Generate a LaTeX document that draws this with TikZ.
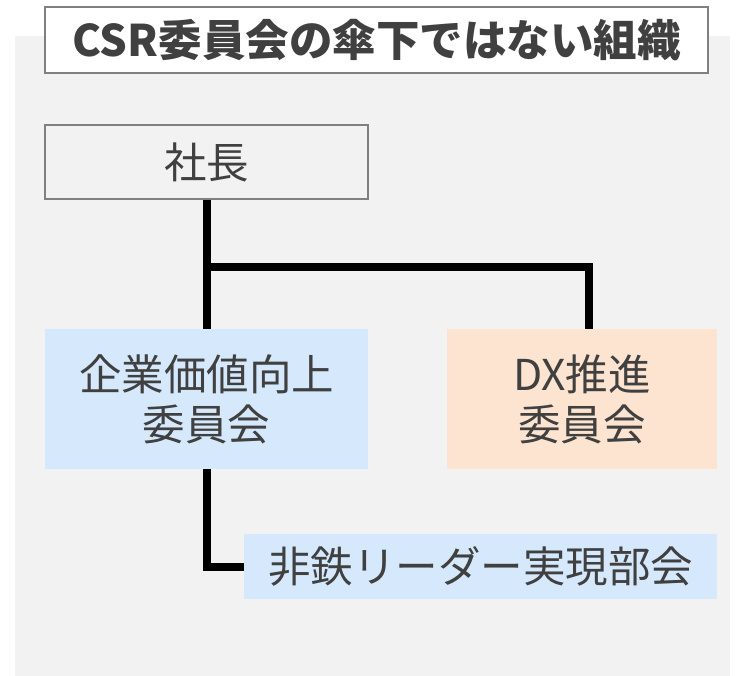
\documentclass[tikz,border=0pt]{standalone}
\usepackage{fontspec}
\setmainfont{Noto Sans CJK JP}
\definecolor{bggray}{HTML}{F2F2F2}
\definecolor{boxblue}{HTML}{D6E9FC}
\definecolor{boxorange}{HTML}{FCE4D0}
\definecolor{txt}{HTML}{404040}
\definecolor{edge}{HTML}{808080}
\tikzset{
  orgbox/.style={rectangle, inner sep=0pt, text=txt, align=center,
    font=\fontsize{42.5}{50}\selectfont},
  conn/.style={line width=8pt, line join=miter, black}
}
\begin{document}
\begin{tikzpicture}[x=1pt,y=-1pt]
\useasboundingbox (0,0) rectangle (738,676);
\fill[bggray] (15,36) rectangle (730,676);
\node[orgbox, fill=white, draw=edge, line width=2pt, minimum width=663pt, minimum height=66pt,
  font=\fontsize{43.5}{50}\selectfont\bfseries] (title) at (376.5,40) {CSR委員会の傘下ではない組織};
\node[orgbox, draw=edge, line width=2pt, minimum width=323pt, minimum height=74pt] (pres) at (206.5,162) {社長};
\node[orgbox, fill=boxblue, minimum width=323pt, minimum height=140pt] (value) at (206.5,399) {企業価値向上\\委員会};
\node[orgbox, fill=boxorange, minimum width=270pt, minimum height=140pt] (dx) at (582,399) {DX推進\\委員会};
\node[orgbox, fill=boxblue, minimum width=473pt, minimum height=65pt] (sub) at (480.5,566.5) {非鉄リーダー実現部会};
\coordinate (j) at (207.5,267);
\coordinate (dxtop) at (588.5,329);
\draw[conn] (pres.south) -- (value.north);
\draw[conn] (j) -| (dxtop);
\draw[conn] (value.south) |- (sub.west);
\end{tikzpicture}
\end{document}
